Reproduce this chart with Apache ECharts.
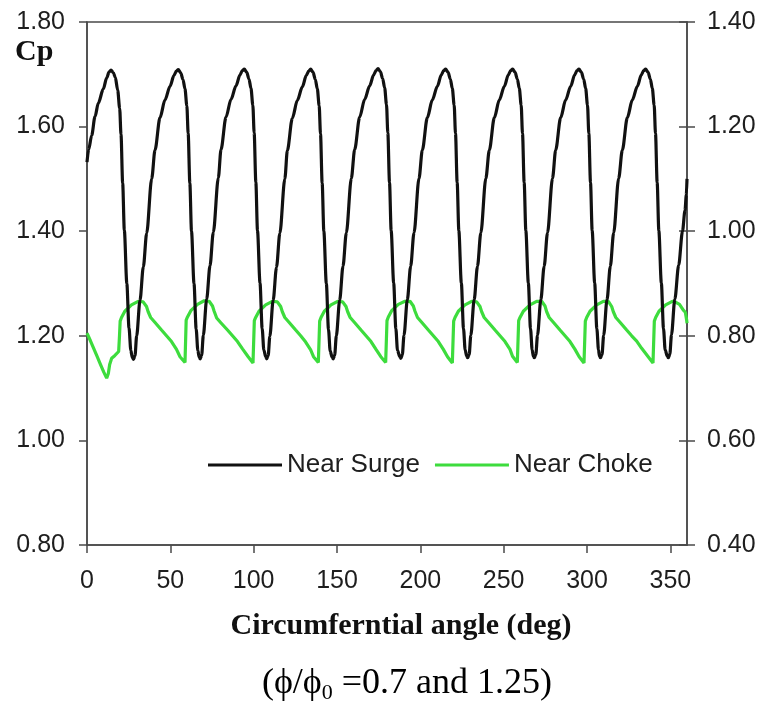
<!DOCTYPE html>
<html>
<head>
<meta charset="utf-8">
<script src="https://cdn.jsdelivr.net/npm/echarts@6/dist/echarts.min.js"></script>
<style>
html,body{margin:0;padding:0;background:#fff;}
#chart{width:762px;height:702px;}
</style>
</head>
<body>
<div id="chart"></div>
<script>
// X ticks (deg)
const xTicks = [0, 50, 100, 150, 200, 250, 300, 350];
const leftTicks = [0.80, 1.00, 1.20, 1.40, 1.60, 1.80];
const rightTicks = [0.40, 0.60, 0.80, 1.00, 1.20, 1.40];

// Near Surge: [angle (deg), Cp] (left axis)
const nearSurge = [
[0,1.532],[1,1.556],[2.8,1.583],[4.8,1.619],[6.8,1.645],[9.8,1.672],[11.8,1.693],[13.2,1.704],[14.4,1.708],
[15.8,1.703],[17,1.694],[18.4,1.670],[19.6,1.635],[20.4,1.585],[21.4,1.492],[22.4,1.402],[23.9,1.300],[25.2,1.215],[26.3,1.172],[27.2,1.158],[27.9,1.155],
[28.8,1.162],[29.8,1.200],[31.8,1.268],[33.8,1.332],[35.8,1.396],[38.8,1.500],[40.8,1.555],[43.8,1.617],[46.8,1.651],[49.8,1.677],[52.2,1.698],[53.6,1.706],[54.8,1.709],
[56.2,1.703],[57.6,1.690],[58.8,1.672],[59.9,1.640],[60.7,1.587],[61.7,1.492],[62.7,1.400],[64.2,1.300],[65.5,1.213],[66.5,1.172],[67.3,1.159],[67.9,1.156],
[68.8,1.163],[69.8,1.201],[71.8,1.270],[73.8,1.334],[75.8,1.398],[78.8,1.502],[80.4,1.556],[83.4,1.618],[86.4,1.652],[89.4,1.678],[91.8,1.699],[93.2,1.707],[94.4,1.710],
[95.8,1.704],[97.2,1.691],[98.4,1.673],[99.5,1.641],[100.3,1.588],[101.3,1.494],[102.3,1.401],[103.8,1.301],[105.1,1.214],[106.1,1.173],[107.2,1.160],[107.8,1.156],
[108.7,1.162],[109.7,1.199],[111.7,1.268],[113.7,1.331],[115.7,1.396],[118.7,1.500],[120.2,1.554],[123.2,1.616],[126.2,1.650],[129.2,1.676],[131.6,1.698],[133,1.706],[134.2,1.710],
[135.6,1.704],[137,1.690],[138.2,1.672],[139.3,1.640],[140.1,1.586],[141.1,1.492],[142.1,1.400],[143.6,1.300],[144.9,1.212],[145.9,1.171],[147.1,1.159],[147.7,1.156],
[148.6,1.163],[149.6,1.200],[151.6,1.268],[153.6,1.333],[155.6,1.397],[158.6,1.501],[160.6,1.556],[163.6,1.618],[166.6,1.652],[169.6,1.678],[172,1.699],[173.4,1.707],[174.6,1.711],
[176,1.705],[177.4,1.692],[178.6,1.674],[179.7,1.642],[180.5,1.588],[181.5,1.493],[182.5,1.401],[184,1.301],[185.3,1.214],[186.3,1.172],[187.7,1.160],[188.3,1.157],
[189.2,1.164],[190.2,1.201],[192.2,1.269],[194.2,1.333],[196.2,1.397],[199.2,1.501],[201.2,1.555],[204.2,1.617],[207.2,1.651],[210.2,1.677],[212.6,1.699],[214,1.707],[215.2,1.710],
[216.6,1.704],[218,1.691],[219.2,1.673],[220.3,1.641],[221.1,1.587],[222.1,1.493],[223.1,1.401],[224.6,1.301],[225.9,1.214],[226.9,1.173],[227.8,1.161],[228.4,1.158],
[229.3,1.164],[230.3,1.201],[232.3,1.269],[234.3,1.333],[236.3,1.397],[239.3,1.501],[241.4,1.555],[244.4,1.617],[247.4,1.651],[250.4,1.677],[252.8,1.699],[254.2,1.707],[255.4,1.710],
[256.8,1.704],[258.2,1.691],[259.4,1.673],[260.5,1.641],[261.3,1.587],[262.3,1.493],[263.3,1.401],[264.8,1.301],[266.1,1.214],[267.1,1.173],[267.8,1.161],[268.4,1.158],
[269.3,1.164],[270.3,1.201],[272.3,1.269],[274.3,1.333],[276.3,1.397],[279.3,1.501],[281.2,1.555],[284.2,1.617],[287.2,1.651],[290.2,1.677],[292.6,1.699],[294,1.707],[295.2,1.710],
[296.6,1.704],[298,1.691],[299.2,1.673],[300.3,1.641],[301.1,1.587],[302.1,1.493],[303.1,1.401],[304.6,1.301],[305.9,1.214],[306.9,1.173],[307.5,1.161],[308.1,1.158],
[309,1.164],[310,1.201],[312,1.269],[314,1.333],[316,1.397],[319,1.501],[321.2,1.555],[324.2,1.617],[327.2,1.651],[330.2,1.677],[332.6,1.699],[334,1.707],[335.2,1.710],
[336.6,1.704],[338,1.691],[339.2,1.673],[340.3,1.641],[341.1,1.587],[342.1,1.493],[343.1,1.401],[344.6,1.301],[345.9,1.214],[346.9,1.173],[348.2,1.161],[348.8,1.158],
[349.7,1.165],[350.7,1.202],[352.7,1.270],[355,1.335],[357.3,1.400],[358.8,1.440],[359.6,1.470],[360,1.500]
];

// Near Choke: [angle (deg), value] (right axis)
const nearChoke = [
[0,0.805],[2,0.791],[4,0.776],[6,0.761],[8,0.746],[10,0.731],[11.8,0.719],[12.8,0.728],[13.6,0.745],[14.8,0.757],[15.6,0.756],[16.6,0.762],[17.8,0.763],[19.0,0.770],[19.5,0.800],
[19.9,0.828],[20.7,0.835],[22.7,0.847],[26.7,0.859],[30.7,0.866],[33.7,0.865],[35.7,0.856],[36.7,0.846],[38.2,0.835],[40.7,0.826],[44.7,0.811],[47.7,0.800],[50.7,0.789],[53.7,0.774],[55.8,0.760],[58.8,0.749],[59.1,0.748],
[59.5,0.830],[60.3,0.836],[62.3,0.848],[66.3,0.860],[70.3,0.867],[73.3,0.866],[75.3,0.857],[76.3,0.847],[77.8,0.834],[80.3,0.825],[84.3,0.811],[87.3,0.800],[90.3,0.789],[93.3,0.775],[96.7,0.760],[99.6,0.748],[100.0,0.747],
[100.4,0.829],[101.2,0.835],[103.2,0.847],[107.2,0.859],[111.2,0.866],[114.2,0.865],[116.2,0.856],[117.2,0.846],[118.7,0.835],[121.2,0.826],[125.2,0.811],[128.2,0.800],[131.2,0.788],[134.2,0.773],[135.9,0.760],[138.8,0.749],[139.2,0.748],
[139.6,0.828],[140.4,0.835],[142.4,0.847],[146.4,0.859],[150.4,0.866],[153.4,0.865],[155.4,0.856],[156.4,0.846],[157.9,0.835],[160.4,0.826],[164.4,0.811],[167.4,0.800],[170.4,0.789],[173.4,0.774],[176.3,0.760],[179.2,0.749],[179.6,0.747],
[180,0.829],[180.8,0.836],[182.8,0.848],[186.8,0.860],[190.8,0.866],[193.8,0.866],[195.8,0.857],[196.8,0.847],[198.3,0.835],[200.8,0.826],[204.8,0.811],[207.8,0.800],[210.8,0.789],[213.8,0.774],[216.3,0.760],[219.2,0.748],[219.6,0.747],
[220,0.828],[220.8,0.835],[222.8,0.847],[226.8,0.859],[230.8,0.866],[233.8,0.865],[235.8,0.856],[236.8,0.846],[238.3,0.835],[240.8,0.826],[244.8,0.811],[247.8,0.800],[250.8,0.789],[253.8,0.774],[255.3,0.761],[258.2,0.749],[258.6,0.748],
[259,0.829],[259.8,0.835],[261.8,0.847],[265.8,0.859],[269.8,0.866],[272.8,0.866],[274.8,0.857],[275.8,0.846],[277.3,0.835],[279.8,0.826],[283.8,0.811],[286.8,0.800],[289.8,0.789],[292.8,0.774],[295.3,0.760],[298.2,0.748],[298.6,0.747],
[299,0.828],[299.8,0.835],[301.8,0.847],[305.8,0.859],[309.8,0.866],[312.8,0.866],[314.8,0.856],[315.8,0.846],[317.3,0.835],[319.8,0.826],[323.8,0.811],[326.8,0.800],[329.8,0.790],[332.8,0.776],[336.7,0.760],[339.6,0.748],[340,0.747],
[340.4,0.828],[341.2,0.835],[343.2,0.847],[347.2,0.859],[351.2,0.866],[352.8,0.865],[355.5,0.860],[357.8,0.849],[359,0.845],[359.8,0.830],[360,0.824]
];

const seriesNames = ['Near Surge', 'Near Choke'];
const xTitle = 'Circumferntial angle (deg)';
const yTitle = 'Cp';

const chart = echarts.init(document.getElementById('chart'), null, {renderer: 'canvas'});
const SANS = '"Liberation Sans", Arial, sans-serif';
const SERIF = '"Liberation Serif", "Times New Roman", serif';
const AX = '#4a4a4a';
const LBL = '#1e1e1e';

const option = {
  backgroundColor: '#fff',
  animation: false,
  grid: {left: 87, right: 75, top: 22, bottom: 157, show: true, borderColor: AX, borderWidth: 1.5, outerBoundsMode: 'none'},
  legend: {
    data: seriesNames,
    left: 203, top: 447,
    itemWidth: 74, itemHeight: 14, itemGap: 15,
    icon: 'path://M0,5.5 L74,5.5 L74,8.5 L0,8.5 Z',
    textStyle: {fontFamily: SANS, fontSize: 26, color: LBL},
    selectedMode: false
  },
  xAxis: {
    type: 'value', min: 0, max: 360, interval: 50,
    axisLine: {show: true, onZero: false, lineStyle: {color: AX, width: 1.5}},
    axisTick: {show: true, inside: false, length: 8, lineStyle: {color: AX, width: 1.5}},
    splitLine: {show: false},
    axisLabel: {showMaxLabel: false, margin: 24, fontFamily: SANS, fontSize: 25, color: LBL,
      formatter: v => xTicks.indexOf(v) >= 0 ? String(v) : ''}
  },
  yAxis: [
    {
      type: 'value', min: 0.8, max: 1.8, interval: 0.2, position: 'left',
      axisLine: {show: true, lineStyle: {color: AX, width: 1.5}},
      axisTick: {show: true, inside: false, length: 8, lineStyle: {color: AX, width: 1.5}},
      splitLine: {show: false},
      axisLabel: {margin: 22, fontFamily: SANS, fontSize: 25, color: LBL,
        formatter: v => leftTicks.find(t => Math.abs(t - v) < 1e-6) !== undefined ? v.toFixed(2) : ''}
    },
    {
      type: 'value', min: 0.4, max: 1.4, interval: 0.2, position: 'right',
      axisLine: {show: true, lineStyle: {color: AX, width: 1.5}},
      axisTick: {show: true, inside: false, length: 8, lineStyle: {color: AX, width: 1.5}},
      splitLine: {show: false},
      axisLabel: {margin: 20, fontFamily: SANS, fontSize: 25, color: LBL,
        formatter: v => rightTicks.find(t => Math.abs(t - v) < 1e-6) !== undefined ? v.toFixed(2) : ''}
    },
    {
      type: 'value', min: 0.4, max: 1.4, interval: 0.2, position: 'right',
      axisLine: {show: false},
      axisTick: {show: true, inside: true, length: 8, lineStyle: {color: AX, width: 1.5}},
      splitLine: {show: false},
      axisLabel: {show: false}
    }
  ],
  series: [
    {
      name: seriesNames[0], type: 'line', yAxisIndex: 0, data: nearSurge,
      showSymbol: false, symbol: 'none', smooth: 0.3, smoothMonotone: 'x',
      lineStyle: {color: '#111', width: 3.2}, itemStyle: {color: '#111'}, z: 3
    },
    {
      name: seriesNames[1], type: 'line', yAxisIndex: 1, data: nearChoke,
      showSymbol: false, symbol: 'none', smooth: false,
      lineStyle: {color: '#3ddc3d', width: 3.2}, itemStyle: {color: '#3ddc3d'}, z: 2
    }
  ],
  graphic: [
    {type: 'text', left: 15, top: 37, style: {text: yTitle, font: 'bold 30px ' + SERIF, fill: '#111'}},
    {type: 'text', x: 401, y: 626, style: {text: xTitle, font: 'bold 30px ' + SERIF, fill: '#111', textAlign: 'center', textVerticalAlign: 'middle'}},
    {type: 'text', x: 407, y: 684, style: {
      text: '{a|(ϕ/ϕ}{s|0}{a| =0.7 and 1.25)}',
      textAlign: 'center', textVerticalAlign: 'middle',
      rich: {
        a: {fontFamily: SERIF, fontSize: 36, color: '#111', lineHeight: 40},
        s: {fontFamily: SERIF, fontSize: 22, color: '#111', lineHeight: 26, verticalAlign: 'bottom'}
      }
    }}
  ]
};
chart.setOption(option);
</script>
</body>
</html>
